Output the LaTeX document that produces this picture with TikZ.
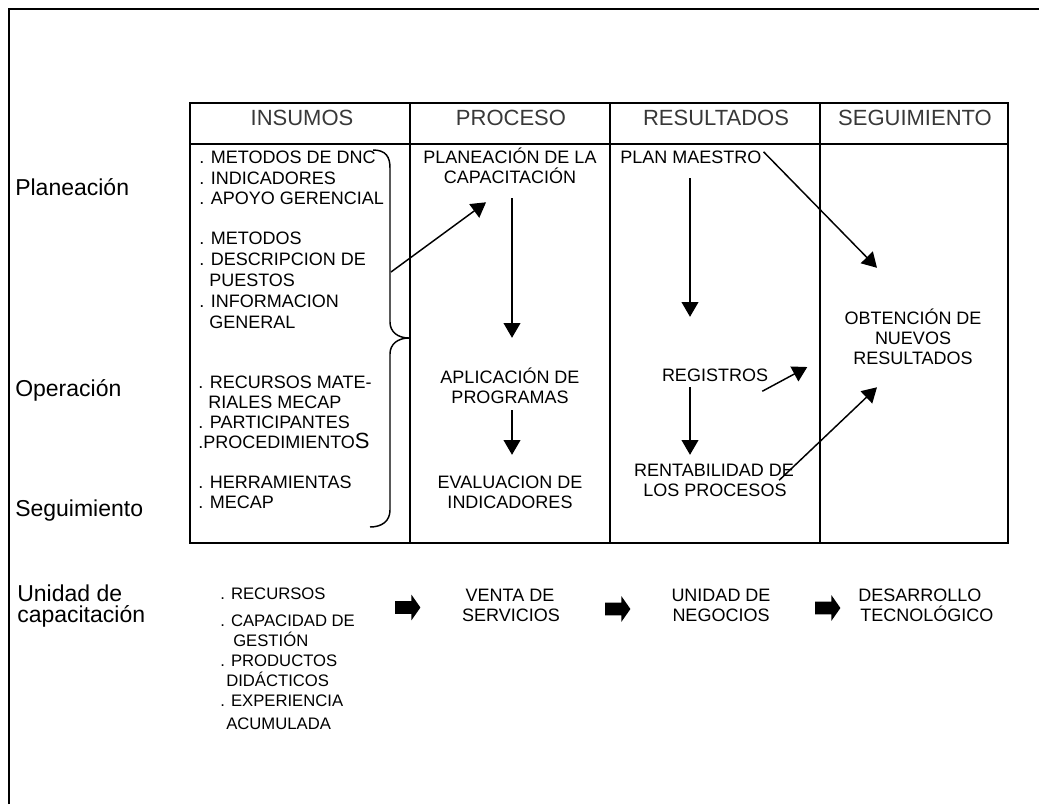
\documentclass[tikz,border=0pt]{standalone}
\usepackage{fontspec}
\setmainfont{Liberation Sans}
\usetikzlibrary{arrows.meta,calc,shapes.arrows}

\newcommand\bodyfont{\fontsize{13.5}{15.75}\selectfont}
\newcommand\listfont{\fontsize{12.5}{15}\selectfont}
\newcommand\rowfont{\fontsize{17.25}{20}\selectfont}
\newcommand\headfont{\fontsize{16.5}{19}\selectfont}

\tikzset{
  txt/.style={inner sep=0pt, font=\bodyfont, text height=9.7pt, text depth=0pt},
  lst/.style={inner sep=0pt, font=\listfont, text height=9pt, text depth=0pt, anchor=base west},
  rowlbl/.style={inner sep=0pt, font=\rowfont, anchor=base west},
  head/.style={inner sep=0pt, font=\headfont, text=black!78, anchor=base},
  rule/.style={line width=1.1pt},
  arr/.style={line width=1.1pt, -{Triangle[length=11pt,width=12.5pt]}},
  fatarrow/.style={single arrow, fill=black, draw=none, inner xsep=0pt,
    inner ysep=4.6pt, minimum height=19pt, single arrow head extend=4.8pt,
    single arrow tip angle=110},
}

\begin{document}
\begin{tikzpicture}[x=0.75pt, y=-0.75pt]
\useasboundingbox (0,0) rectangle (1039,804);

% outer frame
\draw[rule] (9,804) -- (9,9) -- (1039,9);

% table
\draw[rule] (190,103) rectangle (1008,543);
\draw[rule] (190,144) -- (1008,144);
\foreach \c in {410,610,820} \draw[rule] (\c,103) -- (\c,543);

% column headers
\node[head] (hins) at (302,125) {INSUMOS};
\node[head] (hpro) at (511,125) {PROCESO};
\node[head] (hres) at (716,125) {RESULTADOS};
\node[head] (hseg) at (915,125) {SEGUIMIENTO};

% row labels
\node[rowlbl] (rplan) at (15,195) {Planeación};
\node[rowlbl] (rope) at (15,396) {Operación};
\node[rowlbl] (rseg) at (15,516) {Seguimiento};
\node[rowlbl] (runi1) at (17,601) {Unidad de};
\node[rowlbl] (runi2) at (17,622) {capacitación};

% inputs column
\foreach \t [count=\i] in {{. METODOS DE DNC},{. INDICADORES},{. APOYO GERENCIAL}}
  \node[txt, anchor=base west] (ga\i) at (199,{163.5+20.5*(\i-1)}) {\t};
\foreach \t [count=\i] in {{. METODOS},{. DESCRIPCION DE},{\hspace*{.556em}PUESTOS},{. INFORMACION},{\hspace*{.556em}GENERAL}}
  \node[txt, anchor=base west] (gb\i) at (199,{244.5+21*(\i-1)}) {\t};
\foreach \t [count=\i] in {{. RECURSOS MATE-},{\hspace*{.556em}RIALES MECAP},{. PARTICIPANTES},{.PROCEDIMIENTO{\fontsize{16.5}{16}\selectfont S}}}
  \node[txt, anchor=base west] (gc\i) at (198,{388.5+20*(\i-1)}) {\t};
\foreach \t [count=\i] in {{. HERRAMIENTAS},{. MECAP}}
  \node[txt, anchor=base west] (gd\i) at (198,{488.5+20*(\i-1)}) {\t};

% brace grouping the inputs
\draw[rule] (373,150) .. controls (386,150) and (390,157) .. (390,168)
  -- (390,322) .. controls (390,332) and (398,338) .. (409,338)
  .. controls (398,338) and (390,344) .. (390,354)
  -- (390,510) .. controls (390,521) and (382,527) .. (370,527);
\coordinate (braceout) at (391,272);

% process column
\node[txt, anchor=base] (plan1) at (510,163.5) {PLANEACIÓN DE LA};
\node[txt, anchor=base] (plan2) at (510,183.5) {CAPACITACIÓN};
\node[txt, anchor=base] (apl1) at (510,383.5) {APLICACIÓN DE};
\node[txt, anchor=base] (apl2) at (510,403.5) {PROGRAMAS};
\node[txt, anchor=base] (eval1) at (510,488.5) {EVALUACION DE};
\node[txt, anchor=base] (eval2) at (510,508.5) {INDICADORES};

% results column
\node[txt, anchor=base west] (pm) at (620,163.5) {PLAN MAESTRO};
\node[txt, anchor=base] (reg) at (715,381.5) {REGISTROS};
\node[txt, anchor=base] (rent1) at (714,476.5) {RENTABILIDAD DE};
\node[txt, anchor=base] (rent2) at (715,496.5) {LOS PROCESOS};

% follow-up column
\node[txt, anchor=base] (ob1) at (913,324.5) {OBTENCIÓN DE};
\node[txt, anchor=base] (ob2) at (913,344.5) {NUEVOS};
\node[txt, anchor=base] (ob3) at (913,364.5) {RESULTADOS};

% connectors inside the table
\draw[arr] (braceout) -- ($(plan2.south west)+(42.5,18.5)$);
\draw[arr] ($(plan2.south)+(2,14.5)$) -- ($(apl1.north)+(2,-32.5)$);
\draw[arr] ($(apl2.south)+(2,6.5)$) -- ($(eval1.north)+(2,-20.5)$);
\draw[arr] ($(pm.south west)+(70,14.5)$) -- ($(reg.north)+(-25,-51.5)$);
\draw[arr] ($(pm.north east)+(2,1.5)$) -- ($(ob1.north)+(-36,-43.5)$);
\coordinate (regout) at ($(reg.east)+(39,-8)$);
\draw[arr] ($(reg.south east)+(-6,9.5)$) -- (regout);
\draw[arr] ($(reg.south)+(-25,5.5)$) -- ($(rent1.north)+(-24,-8.5)$);
\draw[arr] ($(rent1.south east)+(-15,3.5)$) -- ($(ob3.south)+(-36,22.5)$);

% training unit row
\node[lst] (u1) at (220,599) {. RECURSOS};
\node[lst] (u2) at (220,626) {. CAPACIDAD DE};
\node[lst] (u3) at (233,646) {GESTIÓN};
\node[lst] (u4) at (220,666) {. PRODUCTOS};
\node[lst] (u5) at (226,686) {DIDÁCTICOS};
\node[lst] (u6) at (220,706) {. EXPERIENCIA};
\node[lst] (u7) at (226,729) {ACUMULADA};

\node[fatarrow] (fa1) at (405.5,607.5) {};
\node[txt, anchor=base] (ven1) at (510,601.5) {VENTA DE};
\node[txt, anchor=base] (ven2) at (511,621.5) {SERVICIOS};
\node[fatarrow] (fa2) at (615.5,609) {};
\node[txt, anchor=base] (neg1) at (721,601.5) {UNIDAD DE};
\node[txt, anchor=base] (neg2) at (721,621.5) {NEGOCIOS};
\node[fatarrow] (fa3) at (825.5,608) {};
\node[txt, anchor=base west] (des1) at (858,601.5) {DESARROLLO};
\node[txt, anchor=base west] (des2) at (860,621.5) {TECNOLÓGICO};
\end{tikzpicture}
\end{document}
